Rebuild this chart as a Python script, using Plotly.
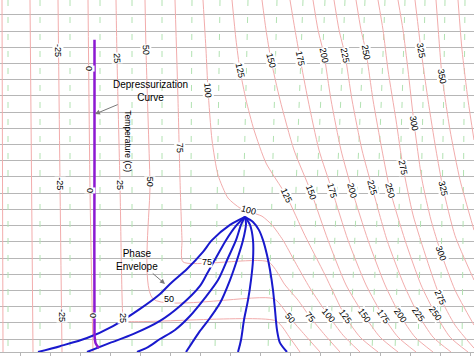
import plotly.graph_objects as go

# ---------------- data ----------------
# axis extents: enthalpy (kJ/kg) and pressure (bar)
H_RANGE = [0, 948]
P_RANGE = [1.0, 109.6]

# isotherms (deg C): enthalpy / pressure points
iso_m75_h = [4, 6]
iso_m75_p = [109.6, 1.0]
iso_m50_h = [60, 66]
iso_m50_p = [109.6, 1.0]
iso_m25_h = [116, 120, 124]
iso_m25_p = [109.6, 53.1, 1.0]
iso_0_h = [176, 180, 186]
iso_0_p = [109.6, 51.0, 1.0]
iso_25_h = [232, 234, 240, 246, 248, 552, 580, 600]
iso_25_p = [109.6, 91.7, 52.5, 11.5, 10.6, 10.6, 5.3, 1.0]
iso_50_h = [290, 292, 300, 306, 548, 580, 610, 640]
iso_50_p = [109.6, 94.2, 53.5, 17.4, 17.4, 11.5, 6.2, 1.0]
iso_75_h = [350, 356, 360, 364, 366, 537, 570, 596, 620, 650, 680]
iso_75_p = [109.6, 78.8, 54.1, 35.5, 28.8, 28.8, 21.7, 17.0, 11.8, 6.2, 1.0]
iso_100_h = [406, 412, 416, 424, 436, 456, 480, 500, 524, 544, 566, 590, 620, 656, 686, 720]
iso_100_p = [109.6, 94.2, 81.9, 66.4, 55.6, 48.5, 45.4, 44.2, 42.9, 40.2, 35.5, 28.8, 20.7, 12.4, 6.2, 1.0]
iso_125_h = [464, 472, 480, 492, 508, 532, 572, 610, 650, 690, 720, 756]
iso_125_p = [109.6, 97.3, 88.0, 78.8, 69.5, 59.3, 49.4, 36.9, 24.8, 12.1, 5.6, 1.0]
iso_150_h = [524, 532, 542, 560, 588, 622, 656, 692, 728, 760, 796]
iso_150_p = [109.6, 100.4, 91.1, 78.8, 63.3, 50.4, 35.5, 21.7, 12.4, 5.6, 1.0]
iso_175_h = [580, 590, 600, 616, 638, 664, 696, 732, 766, 796, 832]
iso_175_p = [109.6, 100.4, 91.7, 78.8, 63.3, 51.0, 35.5, 21.7, 12.1, 5.6, 1.0]
iso_200_h = [626, 636, 648, 662, 682, 704, 736, 770, 800, 830, 866]
iso_200_p = [109.6, 100.4, 92.7, 78.8, 63.3, 51.0, 35.5, 21.7, 12.4, 5.6, 1.0]
iso_225_h = [668, 678, 690, 704, 724, 744, 774, 808, 836, 866, 902]
iso_225_p = [109.6, 100.4, 92.7, 78.8, 63.3, 51.9, 35.5, 21.7, 12.7, 5.6, 1.0]
iso_250_h = [712, 722, 732, 746, 764, 780, 810, 842, 870, 900, 936]
iso_250_p = [109.6, 100.4, 93.6, 78.8, 63.3, 51.0, 35.5, 21.7, 13.0, 5.6, 1.0]
iso_275_h = [756, 766, 776, 792, 806, 826, 854, 880, 910, 948]
iso_275_p = [109.6, 100.4, 88.0, 72.6, 58.1, 43.3, 29.4, 18.0, 9.3, 2.2]
iso_300_h = [796, 806, 816, 828, 844, 862, 882, 910, 948]
iso_300_p = [109.6, 100.4, 88.0, 71.7, 54.1, 41.7, 31.6, 20.1, 9.3]
iso_325_h = [830, 836, 842, 856, 872, 886, 910, 948]
iso_325_p = [109.6, 101.9, 94.2, 78.8, 63.3, 51.6, 36.9, 23.2]
iso_350_h = [872, 878, 884, 900, 920, 948]
iso_350_p = [109.6, 97.3, 86.2, 69.5, 54.1, 38.6]
iso_375_h = [916, 924, 936, 948]
iso_375_p = [109.6, 94.2, 78.8, 66.4]

# entropy lines (green dashed): enthalpy at top (109.6 bar) and bottom (1 bar)
ent_h_top = [16, 80, 140, 200, 264, 324, 384, 440, 496, 554, 606, 650, 690, 730, 770, 810, 850, 890, 930]
ent_h_bot = [16, 80, 140, 200, 264, 324, 380, 430, 480, 536, 580, 620, 660, 700, 744, 790, 836, 880, 924]
ent_p_top = 109.6
ent_p_bot = 1.0

# isotherm labels
lab_text = ["-25", "0", "25", "50", "75", "100", "125", "150", "175", "200", "225", "250",
            "325", "350", "300", "275",
            "-25", "0", "25", "50", "100", "125", "150", "175", "200", "225", "250", "325",
            "-25", "0", "25", "75", "50", "50", "75", "100", "125", "150", "175", "200",
            "225", "250", "275", "300"]
lab_h = [116, 178, 234, 292, 360, 416, 480, 542, 600, 648, 690, 732,
         842, 884, 828, 806,
         120, 180, 240, 300, 496, 572, 622, 664, 704, 744, 780, 886,
         124, 186, 246, 414, 338, 580, 620, 656, 690, 728, 766, 800,
         836, 870, 880, 882]
lab_p = [94.2, 88.6, 91.7, 94.2, 64.0, 81.9, 88.0, 91.1, 91.7, 92.7, 92.7, 93.6,
         94.2, 86.2, 71.7, 58.1,
         53.1, 51.0, 52.5, 53.5, 44.8, 49.4, 50.4, 51.0, 51.0, 51.9, 51.0, 51.6,
         12.4, 12.4, 11.5, 28.8, 17.4, 11.5, 11.8, 12.4, 12.1, 12.4, 12.1, 12.4,
         12.7, 13.0, 18.0, 31.6]
lab_angle = [90, 90, 88, 88, 88, 85, 78, 76, 78, 78, 78, 80,
             80, 80, 80, 78,
             90, 90, 90, 90, 15, 65, 70, 75, 75, 75, 75, 78,
             90, 90, 90, 0, 0, 50, 50, 50, 55, 55, 55, 55,
             55, 55, 65, 70]

# phase envelope: quality lines 0 .. 1
q00_h = [490, 460, 424, 406, 374, 340, 320, 280, 226, 174, 120, 76]
q00_p = [42.7, 40.2, 35.5, 31.9, 26.6, 22.0, 18.9, 14.3, 9.0, 5.3, 2.8, 1.0]
q02_h = [490, 472, 452, 434, 416, 400, 360, 320, 266, 220, 174]
q02_p = [42.7, 39.9, 35.5, 30.6, 25.7, 21.4, 15.2, 10.6, 6.5, 3.8, 1.0]
q04_h = [490, 482, 472, 456, 436, 410, 380, 350, 320, 296, 274]
q04_p = [42.7, 40.2, 35.5, 30.0, 23.2, 17.7, 12.1, 7.8, 5.0, 2.5, 1.0]
q06_h = [490, 492, 486, 474, 460, 440, 420, 400, 384, 372]
q06_p = [42.7, 40.5, 35.5, 29.4, 23.2, 16.1, 11.5, 7.5, 3.8, 1.0]
q08_h = [490, 500, 506, 506, 502, 496, 488, 482, 476]
q08_p = [42.7, 40.2, 35.5, 29.4, 23.2, 17.0, 10.9, 4.7, 1.0]
q10_h = [490, 506, 518, 526, 534, 540, 546, 550, 554, 560, 574]
q10_p = [42.7, 41.1, 38.6, 35.5, 30.9, 26.3, 20.1, 14.0, 7.8, 3.8, 1.0]

# depressurization path
dep_h = [189, 189, 189, 190, 191, 193, 198]
dep_p = [97.3, 60.0, 6.2, 4.7, 3.8, 3.2, 2.2]

# ---------------- figure ----------------
ISO_COLOR = "rgb(242,172,172)"
ENT_COLOR = "rgb(178,226,178)"
GRID_COLOR = "rgb(182,182,182)"
BLUE = "rgb(25,25,205)"
PURPLE = "rgb(140,25,210)"
FONT = "Arial, Liberation Sans, Helvetica, sans-serif"

fig = go.Figure()

for ht, hb in zip(ent_h_top, ent_h_bot):
    fig.add_trace(go.Scatter(x=[ht, hb], y=[ent_p_top, ent_p_bot], mode="lines",
                             line=dict(color=ENT_COLOR, width=1, dash="6px,11px"),
                             hoverinfo="skip", showlegend=False))

isotherms = [
    (iso_m75_h, iso_m75_p), (iso_m50_h, iso_m50_p), (iso_m25_h, iso_m25_p),
    (iso_0_h, iso_0_p), (iso_25_h, iso_25_p), (iso_50_h, iso_50_p),
    (iso_75_h, iso_75_p), (iso_100_h, iso_100_p), (iso_125_h, iso_125_p),
    (iso_150_h, iso_150_p), (iso_175_h, iso_175_p), (iso_200_h, iso_200_p),
    (iso_225_h, iso_225_p), (iso_250_h, iso_250_p), (iso_275_h, iso_275_p),
    (iso_300_h, iso_300_p), (iso_325_h, iso_325_p), (iso_350_h, iso_350_p),
    (iso_375_h, iso_375_p),
]
for h, p in isotherms:
    fig.add_trace(go.Scatter(x=h, y=p, mode="lines",
                             line=dict(color=ISO_COLOR, width=1, shape="spline", smoothing=0.6),
                             hoverinfo="skip", showlegend=False))

for h, p in [(q00_h, q00_p), (q02_h, q02_p), (q04_h, q04_p),
             (q06_h, q06_p), (q08_h, q08_p), (q10_h, q10_p)]:
    fig.add_trace(go.Scatter(x=h, y=p, mode="lines",
                             line=dict(color=BLUE, width=2, shape="spline", smoothing=0.8),
                             hoverinfo="skip", showlegend=False))

fig.add_trace(go.Scatter(x=dep_h, y=dep_p, mode="lines",
                         line=dict(color=PURPLE, width=2.5, shape="spline", smoothing=0.6),
                         hoverinfo="skip", showlegend=False))

for t, h, p, a in zip(lab_text, lab_h, lab_p, lab_angle):
    fig.add_annotation(x=h, y=p, text=t, textangle=a, showarrow=False,
                       font=dict(family=FONT, size=9, color="black"),
                       bgcolor="white", borderpad=0)

fig.add_annotation(x=190, y=74.4, ax=55, ay=-23, text="Depressurization<br>Curve",
                   showarrow=True, arrowhead=2, arrowsize=1, arrowwidth=1,
                   arrowcolor="rgb(120,120,120)",
                   font=dict(family=FONT, size=10, color="black"))
fig.add_annotation(x=330, y=22.0, ax=-28, ay=-24, text="Phase<br>Envelope",
                   showarrow=True, arrowhead=2, arrowsize=1, arrowwidth=1,
                   arrowcolor="rgb(120,120,120)",
                   font=dict(family=FONT, size=10, color="black"))
fig.add_annotation(x=256, y=66.0, text="Temperature (C)", textangle=90, showarrow=False,
                   font=dict(family=FONT, size=8.5, color="black"))

fig.update_layout(
    width=474, height=356,
    margin=dict(l=0, r=0, t=0, b=4),
    paper_bgcolor="white", plot_bgcolor="white",
    showlegend=False,
    xaxis=dict(range=H_RANGE, showgrid=False, zeroline=False, showticklabels=False,
               ticks="outside", ticklen=4, tickcolor=GRID_COLOR, tick0=40, dtick=60,
               showline=True, linecolor=GRID_COLOR, linewidth=1),
    yaxis=dict(range=P_RANGE, showgrid=True, gridcolor=GRID_COLOR, gridwidth=1,
               tick0=0, dtick=5, zeroline=False, showticklabels=False, ticks="",
               showline=False),
)

fig.write_html("out.html", config={"displayModeBar": False},
               post_script="document.body.style.margin='0';document.body.style.overflow='hidden';")
